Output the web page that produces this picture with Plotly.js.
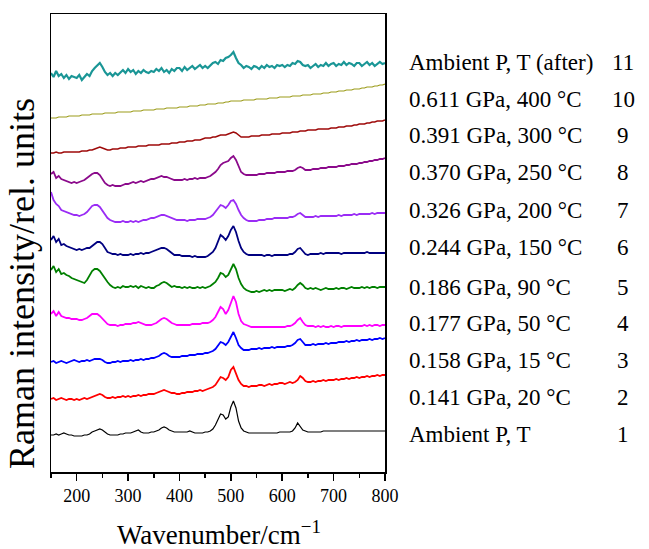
<!DOCTYPE html>
<html>
<head>
<meta charset="utf-8">
<script src="https://cdn.plot.ly/plotly-3.0.1.min.js"></script>
<style>html,body{margin:0;padding:0;background:#fff;}#chart{width:649px;height:549px;}</style>
</head>
<body>
<div id="chart"></div>
<script>
// Wavenumber grid (cm^-1)
const wavenumber = [150,155,160,165,170,175,180,185,190,195,
200,205,210,215,220,225,230,235,240,245,
250,255,260,265,270,275,280,285,290,295,
300,305,310,315,320,325,330,335,340,345,
350,355,360,365,370,375,380,385,390,395,
400,405,410,415,420,425,430,435,440,445,
450,455,460,465,470,475,480,485,490,495,
500,505,510,515,520,525,530,535,540,545,
550,555,560,565,570,575,580,585,590,595,
600,605,610,615,620,625,630,635,640,645,
650,655,660,665,670,675,680,685,690,695,
700,705,710,715,720,725,730,735,740,745,
750,755,760,765,770,775,780,785,790,795,800];

// Stacked intensities (rel. units, offset), spectra 1..11
const s1_ambient = [37,37,38,37,38,39,38,37,37,36,
36,36,36,37,37,38,40,41,42,43,
42,40,38,37,37,37,37,38,38,39,
39,39,40,41,42,40,39,39,39,40,
40,41,42,44,45,44,42,41,40,40,
40,40,40,40,41,40,39,39,39,39,
40,40,41,43,47,53,58,57,53,55,
65,71,64,51,44,41,40,39,39,39,
39,39,39,39,39,39,39,39,39,40,
40,40,40,40,41,44,49,46,42,41,
40,40,40,40,40,40,41,41,41,41,
41,41,41,41,41,41,41,41,41,41,
41,41,41,41,41,41,41,41,41,41,41];
const s2_0141 = [73,74,72,73,74,73,72,73,73,72,
73,72,73,74,73,74,75,76,77,78,
77,75,74,74,75,74,75,75,76,75,
76,75,76,76,77,76,77,77,78,78,
78,79,80,81,82,81,80,79,79,78,
78,79,79,80,80,80,81,81,82,81,
82,83,84,85,87,91,95,94,92,95,
102,105,99,92,88,86,86,85,86,86,
86,87,87,86,87,88,87,88,88,89,
89,88,89,90,89,90,92,96,94,91,
90,90,91,90,91,91,92,91,92,92,
92,93,92,93,93,94,93,94,94,95,
94,95,95,96,95,96,96,97,96,97,97];
const s3_0158 = [110,111,109,110,111,110,109,110,111,112,
111,110,111,111,112,111,112,113,113,113,
112,110,109,109,110,110,111,110,111,111,
111,112,111,112,112,113,112,113,113,114,
114,115,116,118,119,118,116,115,115,115,
115,116,116,116,117,117,117,118,118,118,
119,119,120,121,123,126,130,129,127,130,
135,140,134,127,124,122,122,122,123,123,
123,124,123,124,124,124,125,124,125,125,
125,125,126,126,127,129,132,133,130,127,
127,127,128,127,128,128,128,129,128,129,
129,129,130,130,130,131,130,131,131,132,
131,132,132,132,133,132,133,133,134,133,134];
const s4_0177 = [158,161,156,160,156,155,154,154,153,153,
153,152,152,153,154,156,158,158,158,156,
153,150,148,147,147,147,146,147,147,148,
148,148,149,149,150,149,148,147,147,147,
148,149,151,153,154,153,151,149,148,147,
147,147,147,147,147,148,148,148,148,149,
149,149,150,152,155,160,165,163,158,162,
170,176,170,158,151,148,147,146,145,145,
145,145,145,145,145,145,145,145,145,145,
145,145,146,146,147,149,152,154,150,147,
146,146,146,145,146,145,146,145,145,146,
145,146,146,145,146,146,146,146,146,146,
146,146,147,146,147,146,147,147,146,147,147];
const s5_0186 = [202,206,200,203,198,199,197,196,194,193,
192,191,190,189,192,196,201,203,203,201,
197,194,190,187,185,184,185,184,186,185,
185,186,185,186,184,186,185,184,185,184,
184,186,187,189,190,189,187,185,186,185,
185,184,185,184,185,184,184,185,184,185,
184,185,186,188,190,194,199,198,195,197,
203,208,203,194,188,184,182,181,180,180,
181,180,181,182,181,182,181,182,182,182,
182,181,182,183,182,184,187,189,187,184,
183,184,183,184,183,182,183,184,183,183,
183,184,183,184,184,183,184,185,184,184,
184,185,184,185,184,185,185,184,185,185,185];
const s6_0244 = [232,236,230,233,227,228,226,225,224,223,
222,223,222,223,224,224,226,228,230,230,
228,224,220,219,218,218,217,218,217,217,
217,218,217,218,218,219,218,219,219,220,
221,222,223,224,224,223,221,219,217,217,
217,216,216,216,216,215,216,215,215,215,
215,216,218,220,224,230,237,235,232,236,
242,246,240,231,224,220,218,217,217,217,
217,217,217,216,217,217,216,217,217,217,
217,217,217,218,218,220,223,224,221,218,
217,218,218,218,218,219,218,219,219,219,
219,219,219,218,219,219,219,219,219,219,
219,219,219,220,219,219,219,219,219,219,219];
const s7_0326 = [280,272,268,266,262,261,260,259,258,257,
257,256,257,258,260,263,266,267,267,265,
261,257,254,252,251,250,250,250,251,250,
250,251,250,251,250,251,252,252,253,254,
254,255,256,257,257,256,255,254,253,252,
252,252,252,251,252,252,252,253,253,253,
253,254,255,257,260,264,267,266,264,267,
271,272,268,262,257,254,252,251,251,251,
251,252,252,252,253,253,253,254,254,254,
254,254,254,255,255,256,258,259,257,255,
255,255,255,256,255,256,256,256,256,256,
256,256,257,256,257,257,257,257,258,257,
258,258,258,258,258,259,258,259,259,259,259];
const s8_0370 = [298,300,294,296,293,292,291,290,289,290,
289,290,291,292,294,296,298,299,299,297,
293,289,287,286,287,286,286,286,287,288,
288,289,290,289,290,291,290,291,292,293,
293,294,295,296,295,295,294,293,292,292,
292,292,293,292,293,293,294,293,294,294,
294,295,296,298,300,303,307,309,310,311,
314,316,312,305,300,298,297,297,297,297,
297,298,298,298,299,299,299,299,300,300,
300,300,301,301,301,302,304,305,304,302,
302,302,303,303,303,304,304,304,305,305,
305,305,306,306,306,307,307,308,308,308,
309,309,310,310,311,311,312,312,313,313,314];
const s9_0391 = [319,319,320,319,319,320,320,320,320,320,
320,320,321,321,321,322,322,323,324,325,
324,323,322,322,323,323,323,324,324,324,
325,325,325,325,326,326,326,326,327,327,
327,327,327,328,328,328,328,329,329,329,
330,330,330,331,331,331,332,332,332,333,
334,334,334,335,335,336,337,337,337,338,
339,340,339,337,335,335,335,335,336,336,
336,336,337,337,337,337,338,338,338,338,
339,339,339,339,340,340,340,341,341,341,
342,342,342,342,343,343,343,343,343,344,
344,344,345,345,345,346,346,346,347,347,
348,348,348,349,349,350,350,351,351,351,352];
const s10_0611 = [354,354,354,355,355,355,355,356,356,356,
356,356,357,357,357,357,358,358,358,358,
358,359,359,359,359,359,360,360,360,360,
360,360,361,361,361,361,362,362,362,362,
362,363,363,363,363,364,364,364,364,364,
365,365,365,365,366,366,366,366,367,367,
367,368,368,368,368,369,369,369,370,370,
371,371,371,371,371,372,372,372,372,372,
373,373,373,373,373,374,374,374,374,375,
375,375,375,375,376,376,376,376,377,377,
377,377,378,378,378,378,379,379,379,380,
380,380,381,381,381,382,382,382,383,383,
383,384,384,385,385,385,386,386,387,387,388];
const s11_after = [399,395,401,396,398,394,397,393,396,395,
394,397,392,395,398,396,401,404,407,409,
405,400,397,399,396,399,397,400,402,399,
403,400,402,398,401,399,402,400,399,401,
400,403,401,404,400,402,399,403,401,404,
404,401,405,402,404,406,403,405,407,404,
406,404,407,409,410,408,412,411,414,415,
417,420,414,409,407,404,406,405,403,406,
405,403,406,404,407,405,406,404,407,406,
407,405,407,406,409,408,411,410,407,406,
407,404,406,408,405,407,406,409,406,408,
409,406,408,407,410,407,409,408,406,409,
409,406,408,410,407,409,406,408,410,408,409];

const conditions = ["Ambient P, T","0.141 GPa, 20 °C","0.158 GPa, 15 °C","0.177 GPa, 50 °C",
  "0.186 GPa, 90 °C","0.244 GPa, 150 °C","0.326 GPa, 200 °C","0.370 GPa, 250 °C",
  "0.391 GPa, 300 °C","0.611 GPa, 400 °C","Ambient P, T (after)"];
const spectrumNumbers = ["1","2","3","4","5","6","7","8","9","10","11"];

const seriesList = [s1_ambient,s2_0141,s3_0158,s4_0177,s5_0186,s6_0244,s7_0326,s8_0370,s9_0391,s10_0611,s11_after];
const colors = ["#000000","#ff0000","#0000ff","#ff00ff","#008000","#000080","#9a2cf5","#8b0a8b","#9e0a0a","#9c9c1a","#1a9696"];
const widths = [1.2,1.8,1.8,1.8,1.8,1.8,1.8,1.8,1.5,1.2,2.2];

// layout geometry in pixels
const G = {W:649, H:549, l:51, r:385, t:14, b:472};
const xp = px => (px - G.l) / (G.r - G.l);
const yp = py => (G.b - py) / (G.b - G.t);
const rowY = [434,397,360,323,287,247,210,172,135,99,63];
const FONT = "Liberation Serif";

const traces = seriesList.map((s,i) => ({
  x: wavenumber, y: s, type:'scatter', mode:'lines',
  line:{color:colors[i], width:widths[i]}, name: conditions[i], hoverinfo:'skip'
}));

const annotations = [];
conditions.forEach((c,i) => {
  annotations.push({xref:'paper', yref:'paper', x:xp(407), y:yp(rowY[i]), xanchor:'left', yanchor:'middle',
    text:c, showarrow:false, font:{family:FONT, size:23, color:'#000'}});
  annotations.push({xref:'paper', yref:'paper', x:xp(623), y:yp(rowY[i]), xanchor:'center', yanchor:'middle',
    text:spectrumNumbers[i], showarrow:false, font:{family:FONT, size:23, color:'#000'}});
});
annotations.push({xref:'paper', yref:'paper', x:xp(219), y:yp(533), xanchor:'center', yanchor:'middle',
  text:'Wavenumber/cm<sup>−1</sup>', showarrow:false, font:{family:FONT, size:27, color:'#000'}});
annotations.push({xref:'paper', yref:'paper', x:xp(22), y:yp(284), xanchor:'center', yanchor:'middle',
  text:'Raman intensity/rel. units', textangle:-90, showarrow:false, font:{family:FONT, size:36, color:'#000'}});

const layout = {
  width:G.W, height:G.H,
  font:{family:FONT, color:'#000'},
  margin:{l:G.l, r:G.W-G.r, t:G.t, b:G.H-G.b, pad:0},
  paper_bgcolor:'#fff', plot_bgcolor:'#fff', showlegend:false,
  xaxis:{range:[150,800], tickmode:'linear', tick0:0, dtick:100, ticks:'outside', ticklen:7, tickwidth:1.5,
    tickcolor:'#000', showline:true, linewidth:1.5, linecolor:'#000', mirror:true, showgrid:false, zeroline:false,
    tickfont:{family:FONT, size:18, color:'#000'},
    minor:{dtick:50, tick0:0, ticks:'outside', ticklen:4, tickwidth:1.5, tickcolor:'#000', showgrid:false}},
  yaxis:{range:[0,458], showticklabels:false, ticks:'', showline:true, linewidth:1.5, linecolor:'#000',
    mirror:true, showgrid:false, zeroline:false},
  annotations: annotations
};

Plotly.newPlot('chart', traces, layout, {staticPlot:true, displayModeBar:false});
</script>
</body>
</html>
